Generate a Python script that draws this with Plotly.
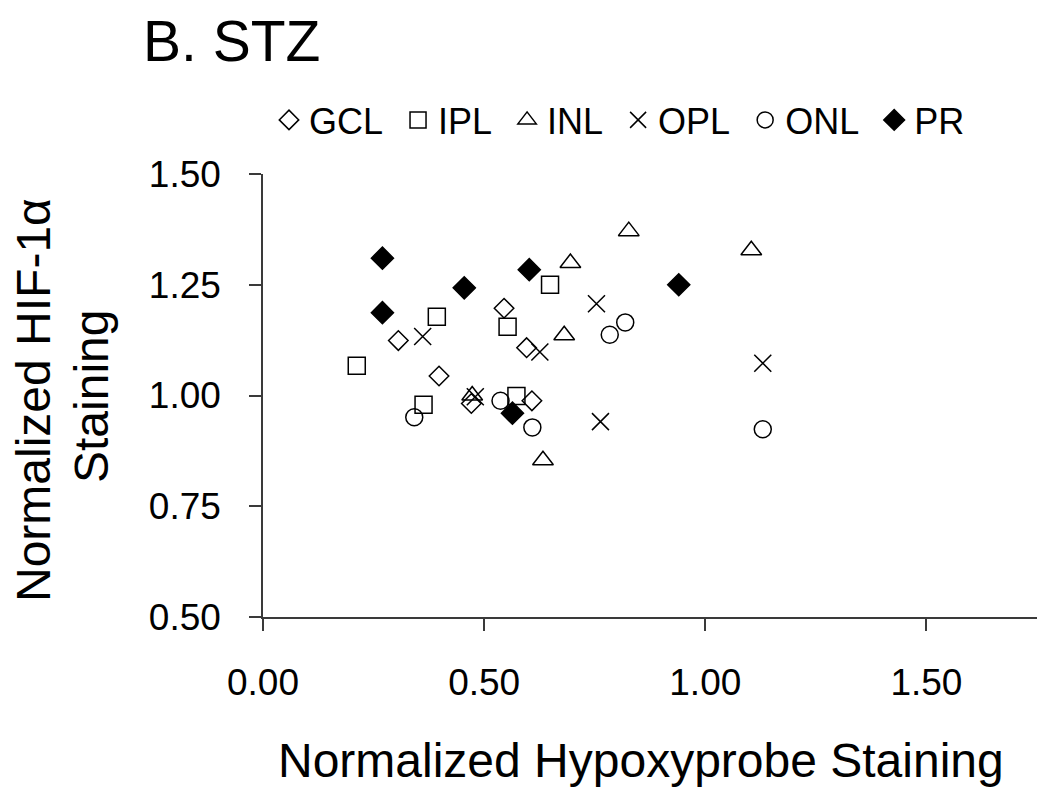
import plotly.graph_objects as go

# ---- data ----
series_names = ["GCL", "IPL", "INL", "OPL", "ONL", "PR"]

gcl_x = [0.306, 0.398, 0.471, 0.545, 0.596, 0.608]
gcl_y = [1.124, 1.044, 0.982, 1.197, 1.108, 0.988]

ipl_x = [0.212, 0.363, 0.393, 0.553, 0.573, 0.649]
ipl_y = [1.067, 0.979, 1.178, 1.155, 0.999, 1.250]

inl_x = [0.473, 0.633, 0.681, 0.695, 0.827, 1.104]
inl_y = [1.000, 0.854, 1.136, 1.299, 1.371, 1.328]

opl_x = [0.361, 0.480, 0.626, 0.754, 0.763, 1.130]
opl_y = [1.133, 0.997, 1.098, 1.207, 0.941, 1.073]

onl_x = [0.342, 0.537, 0.609, 0.784, 0.819, 1.130]
onl_y = [0.951, 0.988, 0.928, 1.137, 1.165, 0.924]

pr_x = [0.270, 0.270, 0.455, 0.602, 0.564, 0.940]
pr_y = [1.310, 1.187, 1.243, 1.284, 0.960, 1.250]

x_ticks = [0.0, 0.5, 1.0, 1.5]
x_ticklabels = ["0.00", "0.50", "1.00", "1.50"]
y_ticks = [0.50, 0.75, 1.00, 1.25, 1.50]
y_ticklabels = ["0.50", "0.75", "1.00", "1.25", "1.50"]

title_text = "B. STZ"
x_title = "Normalized Hypoxyprobe Staining"
y_title_line1 = "Normalized HIF-1α"
y_title_line2 = "Staining"

FONT = "Liberation Sans, Arial, Helvetica, sans-serif"
INK = "#000000"
AXIS = "#3a3a3a"

styles = {
    "GCL": dict(symbol="diamond-open", size=15),
    "IPL": dict(symbol="square-open", size=17),
    "INL": dict(symbol="triangle-up-open", size=18),
    "OPL": dict(symbol="x-thin-open", size=17),
    "ONL": dict(symbol="circle-open", size=17),
    "PR": dict(symbol="diamond", size=17),
}
data = {
    "GCL": (gcl_x, gcl_y),
    "IPL": (ipl_x, ipl_y),
    "INL": (inl_x, inl_y),
    "OPL": (opl_x, opl_y),
    "ONL": (onl_x, onl_y),
    "PR": (pr_x, pr_y),
}

fig = go.Figure()
for i, name in enumerate(series_names):
    xs, ys = data[name]
    st = styles[name]
    label = name if i == len(series_names) - 1 else name + "\u00a0"
    fig.add_trace(go.Scatter(
        x=xs, y=ys, mode="markers", name=label,
        marker=dict(symbol=st["symbol"], size=st["size"], color=INK,
                    line=dict(color=INK, width=1.5)),
    ))

# page offset (body margin of the html page)
OFF = 8
W, H = 1050, 808
L = 263 - OFF
T = 174 - OFF
R = W - (1037 - OFF)
B = H - (617 - OFF)
pw = W - L - R
ph = H - T - B

def px_x(p):
    return (p - OFF - L) / pw

def px_y(p):
    return (H - B - (p - OFF)) / ph

fig.update_layout(
    width=W, height=H,
    margin=dict(l=L, r=R, t=T, b=B, pad=0),
    paper_bgcolor="white", plot_bgcolor="white",
    font=dict(family=FONT, color=INK),
    showlegend=True,
    legend=dict(
        orientation="h", x=px_x(269), xanchor="left",
        y=px_y(120), yanchor="middle",
        font=dict(size=36, family=FONT, color=INK),
        itemsizing="trace", itemwidth=30, tracegroupgap=0,
        bgcolor="rgba(0,0,0,0)", borderwidth=0,
    ),
    xaxis=dict(
        range=[0, 1.75], tickmode="array", tickvals=x_ticks, ticktext=x_ticklabels,
        showgrid=False, zeroline=False, showline=True, linecolor=AXIS, linewidth=1.5,
        ticks="outside", ticklen=12, tickwidth=1.5, tickcolor=AXIS,
        tickfont=dict(size=37, family=FONT, color=INK), ticklabelstandoff=20,
        fixedrange=True,
    ),
    yaxis=dict(
        range=[0.5, 1.5], tickmode="array", tickvals=y_ticks, ticktext=y_ticklabels,
        showgrid=False, zeroline=False, showline=True, linecolor=AXIS, linewidth=1.5,
        ticks="outside", ticklen=12, tickwidth=1.5, tickcolor=AXIS,
        tickfont=dict(size=37, family=FONT, color=INK), ticklabelstandoff=21,
        fixedrange=True,
    ),
    annotations=[
        dict(text=title_text, xref="paper", yref="paper", x=px_x(141), y=px_y(41),
             xanchor="left", yanchor="middle", showarrow=False,
             font=dict(size=57, family=FONT, color=INK)),
        dict(text=x_title, xref="paper", yref="paper", x=px_x(641), y=px_y(760),
             xanchor="center", yanchor="middle", showarrow=False,
             font=dict(size=48, family=FONT, color=INK)),
        dict(text=y_title_line1, xref="paper", yref="paper", x=px_x(33), y=px_y(400),
             xanchor="center", yanchor="middle", showarrow=False, textangle=-90,
             font=dict(size=48, family=FONT, color=INK)),
        dict(text=y_title_line2, xref="paper", yref="paper", x=px_x(91), y=px_y(397),
             xanchor="center", yanchor="middle", showarrow=False, textangle=-90,
             font=dict(size=48, family=FONT, color=INK)),
    ],
)

fig.write_html("out.html")
